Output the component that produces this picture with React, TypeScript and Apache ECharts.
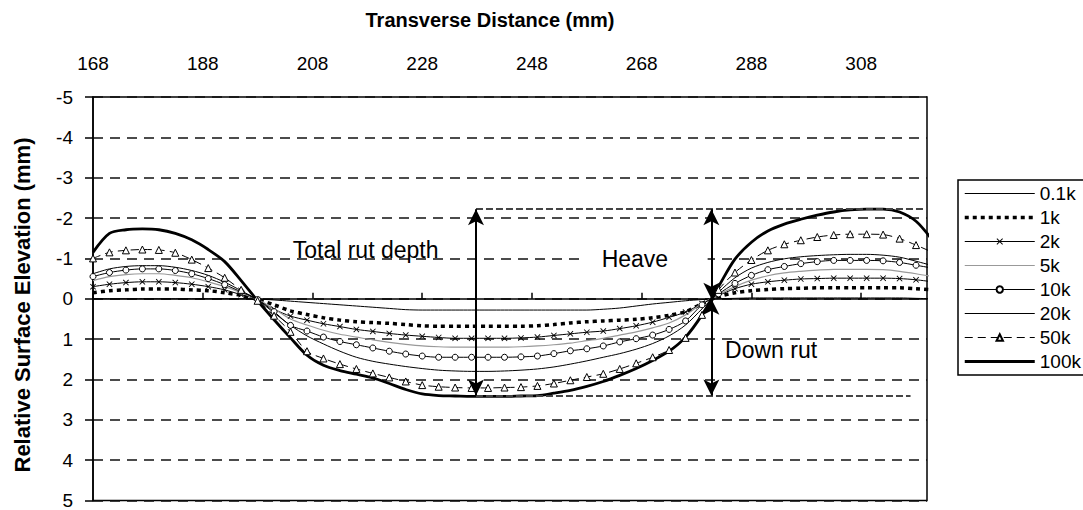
import React, { useEffect, useRef } from "react";
import * as echarts from "echarts";

// Transverse positions of the profile readings (mm)
const distance = [
  168, 171, 174, 177, 180, 183, 186, 189, 192, 195, 198, 201, 204, 207, 210, 213, 216, 219,
  222, 225, 228, 231, 234, 237, 240, 243, 246, 249, 252, 255, 258, 261, 264, 267, 270, 273,
  276, 279, 282, 285, 288, 291, 294, 297, 300, 303, 306, 309, 312, 315, 318, 321,
];

// Relative surface elevation (mm, positive = downwards) after each number of load cycles
const p01k = [
  0, 0, 0, 0, 0, 0, 0, 0, 0, 0, 0.01, 0.03, 0.06, 0.09, 0.12, 0.15, 0.18, 0.21,
  0.24, 0.27, 0.28, 0.28, 0.28, 0.28, 0.28, 0.28, 0.28, 0.28, 0.28, 0.28, 0.28, 0.26, 0.23, 0.18, 0.13, 0.09,
  0.05, 0.02, 0, -0.01, -0.02, -0.02, -0.02, -0.02, -0.02, -0.02, -0.02, -0.02, -0.02, -0.02, -0.01, 0,
];
const p1k = [
  -0.15, -0.2, -0.22, -0.24, -0.24, -0.24, -0.22, -0.2, -0.15, -0.08, 0.02, 0.15, 0.3, 0.39, 0.47, 0.53, 0.57, 0.59,
  0.61, 0.64, 0.67, 0.68, 0.68, 0.68, 0.68, 0.68, 0.68, 0.67, 0.64, 0.6, 0.57, 0.55, 0.53, 0.51, 0.47, 0.41,
  0.32, 0.12, -0.05, -0.15, -0.2, -0.23, -0.25, -0.26, -0.27, -0.27, -0.27, -0.27, -0.27, -0.27, -0.25, -0.22,
];
const p2k = [
  -0.3, -0.36, -0.4, -0.42, -0.42, -0.4, -0.36, -0.3, -0.22, -0.1, 0.02, 0.26, 0.43, 0.53, 0.62, 0.69, 0.76, 0.81,
  0.86, 0.9, 0.93, 0.96, 0.98, 0.98, 0.98, 0.98, 0.97, 0.95, 0.91, 0.87, 0.83, 0.8, 0.74, 0.67, 0.58, 0.46,
  0.33, 0.12, -0.08, -0.25, -0.36, -0.42, -0.46, -0.49, -0.5, -0.51, -0.51, -0.51, -0.51, -0.5, -0.47, -0.42,
];
const p5k = [
  -0.45, -0.55, -0.6, -0.62, -0.62, -0.58, -0.52, -0.42, -0.3, -0.15, 0.02, 0.25, 0.5, 0.65, 0.78, 0.88, 0.95, 1.02,
  1.08, 1.13, 1.17, 1.19, 1.2, 1.2, 1.2, 1.2, 1.19, 1.17, 1.14, 1.1, 1.04, 0.98, 0.9, 0.82, 0.72, 0.6,
  0.4, 0.12, -0.1, -0.3, -0.46, -0.57, -0.64, -0.68, -0.71, -0.73, -0.73, -0.73, -0.72, -0.68, -0.62, -0.55,
];
const p10k = [
  -0.55, -0.65, -0.71, -0.74, -0.74, -0.7, -0.62, -0.5, -0.35, -0.17, 0.02, 0.32, 0.66, 0.8, 0.95, 1.06, 1.14, 1.22,
  1.3, 1.37, 1.42, 1.45, 1.45, 1.45, 1.45, 1.45, 1.44, 1.42, 1.36, 1.29, 1.24, 1.17, 1.07, 0.99, 0.9, 0.76,
  0.55, 0.15, -0.12, -0.38, -0.58, -0.72, -0.8, -0.87, -0.92, -0.95, -0.95, -0.95, -0.94, -0.9, -0.83, -0.76,
];
const p20k = [
  -0.62, -0.74, -0.8, -0.82, -0.82, -0.78, -0.7, -0.58, -0.41, -0.2, 0.03, 0.35, 0.66, 0.92, 1.12, 1.3, 1.45, 1.55,
  1.62, 1.68, 1.73, 1.77, 1.79, 1.8, 1.8, 1.79, 1.77, 1.74, 1.69, 1.62, 1.54, 1.45, 1.36, 1.25, 1.11, 0.92,
  0.65, 0.25, -0.16, -0.52, -0.76, -0.9, -0.99, -1.04, -1.07, -1.09, -1.1, -1.1, -1.08, -1.03, -0.93, -0.82,
];
const p50k = [
  -1.0, -1.15, -1.2, -1.22, -1.21, -1.14, -0.97, -0.76, -0.52, -0.22, 0.05, 0.42, 0.82, 1.3, 1.48, 1.62, 1.74, 1.85,
  1.95, 2.05, 2.14, 2.18, 2.2, 2.21, 2.21, 2.2, 2.19, 2.16, 2.1, 2.02, 1.94, 1.86, 1.74, 1.6, 1.45, 1.27,
  0.97, 0.4, -0.22, -0.65, -0.96, -1.2, -1.35, -1.45, -1.53, -1.58, -1.6, -1.6, -1.59, -1.49, -1.33, -1.15,
];
const p100k = [
  -1.15, -1.62, -1.71, -1.73, -1.71, -1.62, -1.46, -1.22, -0.92, -0.45, 0.05, 0.52, 0.97, 1.4, 1.65, 1.78, 1.87, 1.96,
  2.1, 2.25, 2.36, 2.4, 2.41, 2.42, 2.42, 2.42, 2.41, 2.4, 2.34, 2.27, 2.17, 2.05, 1.9, 1.73, 1.53, 1.3,
  0.95, 0.4, -0.3, -0.98, -1.4, -1.68, -1.85, -1.97, -2.07, -2.15, -2.2, -2.22, -2.22, -2.15, -1.92, -1.45,
];

const seriesNames = ["0.1k", "1k", "2k", "5k", "10k", "20k", "50k", "100k"];
const markedSeries = ["2k", "10k", "50k"];
const xTickValues = [168, 188, 208, 228, 248, 268, 288, 308];

// Rut measurement guides: heave level, rut bottom, and the two arrow positions (mm)
const heaveLevel = -2.22;
const rutBottom = 2.4;
const totalRutX = 237.8;
const splitArrowX = 280.7;
const guideEndTop = 320;
const guideEndBottom = 317;

const FONT = "'Liberation Sans', Arial, sans-serif";
const crossSymbol =
  "path://M1,0 L5,4 L9,0 L10,1 L6,5 L10,9 L9,10 L5,6 L1,10 L0,9 L4,5 L0,1 Z";

const toPairs = (ys: number[]) => distance.map((x, i) => [x, ys[i]]);

// Stroke style of every profile line
const lineStyles: Record<string, any> = {
  "0.1k": { color: "#000", width: 1 },
  "1k": { color: "#000", width: 3.5, type: [4, 4] },
  "2k": { color: "#000", width: 1 },
  "5k": { color: "#999", width: 1.2 },
  "10k": { color: "#000", width: 1 },
  "20k": { color: "#000", width: 1 },
  "50k": { color: "#000", width: 1, type: [8, 5] },
  "100k": { color: "#000", width: 2.8 },
};

export default function App() {
  const ref = useRef<HTMLDivElement>(null);

  useEffect(() => {
    if (!ref.current) return;
    const chart = echarts.init(ref.current, undefined, { renderer: "svg" });

    const hollow = { color: "#fff", borderColor: "#000", borderWidth: 1 };
    const guide = { color: "#444", width: 2, type: [7, 3] };

    const series: any[] = [
      { name: "0.1k", data: toPairs(p01k), symbol: "none" },
      { name: "1k", data: toPairs(p1k), symbol: "none" },
      { name: "2k", data: toPairs(p2k), symbol: crossSymbol, symbolSize: 6, itemStyle: { color: "#000" } },
      { name: "5k", data: toPairs(p5k), symbol: "none" },
      { name: "10k", data: toPairs(p10k), symbol: "circle", symbolSize: 6, itemStyle: hollow },
      { name: "20k", data: toPairs(p20k), symbol: "none" },
      { name: "50k", data: toPairs(p50k), symbol: "triangle", symbolSize: 7, itemStyle: hollow },
      {
        name: "100k", data: toPairs(p100k), symbol: "none",
        markLine: {
          silent: true,
          animation: false,
          symbol: ["arrow", "arrow"],
          symbolSize: [12, 16],
          label: { show: false },
          lineStyle: { color: "#000", width: 2, type: "solid" },
          data: [
            [
              { coord: [totalRutX, heaveLevel], symbol: "none", lineStyle: guide },
              { coord: [guideEndTop, heaveLevel], symbol: "none" },
            ],
            [
              { coord: [totalRutX, rutBottom], symbol: "none", lineStyle: guide },
              { coord: [guideEndBottom, rutBottom], symbol: "none" },
            ],
            [{ coord: [totalRutX, heaveLevel] }, { coord: [totalRutX, rutBottom] }],
            [{ coord: [splitArrowX, heaveLevel] }, { coord: [splitArrowX, 0] }],
            [{ coord: [splitArrowX, 0] }, { coord: [splitArrowX, rutBottom] }],
          ],
        },
      },
    ].map((s) => ({
      type: "line", smooth: 0.3, animation: false, z: 3, color: "#000",
      itemStyle: { color: "#000" }, lineStyle: lineStyles[s.name], ...s,
    }));

    chart.setOption({
      animation: false,
      backgroundColor: "#fff",
      textStyle: { fontFamily: FONT },
      grid: {
        left: 93, top: 97, right: 156, bottom: 7,
        show: true, borderColor: "#000", borderWidth: 1.5, backgroundColor: "transparent",
      },
      legend: {
        // plain line series show only their stroke in the key
        data: seriesNames.map((name) => ({
          name,
          lineStyle: lineStyles[name],
          ...(markedSeries.includes(name) ? {} : { itemStyle: { opacity: 0 } }),
        })),
        orient: "vertical",
        left: 958,
        top: 180,
        itemWidth: 70,
        itemHeight: 8,
        itemGap: 5,
        padding: [4, 60, 4, 5],
        borderColor: "#000",
        borderWidth: 1.5,
        textStyle: { fontSize: 19, color: "#000", fontFamily: FONT },
      },
      xAxis: {
        type: "value",
        position: "top",
        min: 168,
        max: 320,
        axisLine: { show: true, lineStyle: { color: "#000", width: 1.5 } },
        axisTick: { show: true, length: 6, customValues: xTickValues, lineStyle: { color: "#000", width: 1.5 } },
        axisLabel: { fontSize: 19, color: "#000", margin: 24, customValues: xTickValues, fontFamily: FONT },
        splitLine: { show: false },
      },
      yAxis: {
        type: "value",
        inverse: true,
        min: -5,
        max: 5,
        interval: 1,
        axisLine: { show: true, lineStyle: { color: "#000", width: 1.5 } },
        axisTick: { show: true, length: 8, lineStyle: { color: "#000", width: 1.5 } },
        axisLabel: { fontSize: 19, color: "#000", margin: 20, fontFamily: FONT },
        splitLine: { show: true, lineStyle: { color: "#111", width: 1.5, type: [10, 7] } },
      },
      series,
    });

    const px = (x: number, y: number) => chart.convertToPixel({ xAxisIndex: 0, yAxisIndex: 0 }, [x, y]) as number[];
    const totalLbl = px(204.4, -1.22);
    const heaveLbl = px(260.7, -0.98);
    const downLbl = px(283.2, 1.28);
    const annot = { fill: "#000", fontSize: 23, fontFamily: FONT, textVerticalAlign: "middle" };

    chart.setOption({
      graphic: [
        {
          type: "text", x: 490, y: 20,
          style: { text: "Transverse Distance (mm)", fontSize: 20, fontWeight: "bold", fill: "#000", fontFamily: FONT, textAlign: "center", textVerticalAlign: "middle" },
        },
        {
          type: "text", x: 22, y: 305, rotation: Math.PI / 2,
          style: { text: "Relative Surface Elevation (mm)", fontSize: 22, fontWeight: "bold", fill: "#000", fontFamily: FONT, textAlign: "center", textVerticalAlign: "middle" },
        },
        { type: "text", x: totalLbl[0], y: totalLbl[1], z: 10, style: { text: "Total rut depth", ...annot } },
        {
          type: "rect", z: 9,
          shape: { x: heaveLbl[0] - 20, y: heaveLbl[1] - 12, width: 126, height: 24 },
          style: { fill: "#fff" },
        },
        { type: "text", x: heaveLbl[0], y: heaveLbl[1], z: 10, style: { text: "Heave", ...annot } },
        { type: "text", x: downLbl[0], y: downLbl[1], z: 10, style: { text: "Down rut", ...annot } },
      ],
    });

    return () => chart.dispose();
  }, []);

  return (
    <div
      ref={ref}
      style={{ position: "fixed", left: 0, top: 0, width: 1083, height: 510, background: "#fff" }}
    />
  );
}
